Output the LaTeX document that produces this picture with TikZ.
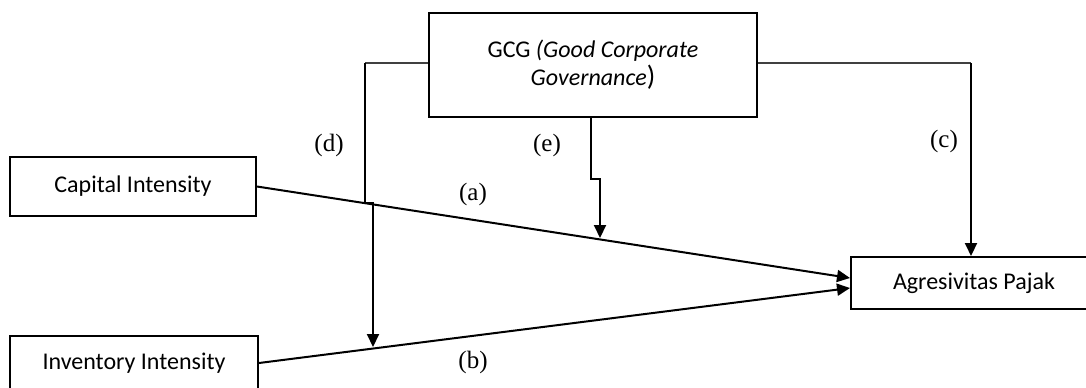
\documentclass[tikz,border=0pt]{standalone}
\usepackage{fontspec}
\setmainfont{Liberation Serif}
\newfontfamily\boxfont{Carlito}
\usetikzlibrary{arrows.meta}

\begin{document}
\begin{tikzpicture}[x=0.5pt,y=-0.5pt,
    varbox/.style={draw, line width=1pt, inner sep=0pt, font=\boxfont\fontsize{12}{14}\selectfont, align=center},
    path label/.style={font=\fontsize{12.5}{14}\selectfont},
    arrowline/.style={line width=1pt, -{Triangle[length=6.5pt,width=6pt]}},
    plainline/.style={line width=1pt},
    thinlink/.style={line width=0.6pt, black!75}]

% page size (the bottom and right boxes run off the page)
\useasboundingbox (0,0) rectangle (1086,387);

% Variables
\node[varbox, minimum width=123pt, minimum height=29.5pt] (capital) at (133,186.5) {Capital Intensity};
\node[varbox, minimum width=124pt, minimum height=27pt] (inventory) at (134,363) {Inventory Intensity};
\node[varbox, minimum width=123pt, minimum height=26pt] (agres) at (974,283) {Agresivitas Pajak};
\node[varbox, minimum width=164pt, minimum height=52pt] (gcg) at (593,65)
    {GCG \textit{(Good Corporate}\\\textit{Governance}{\fontsize{14}{14}\selectfont)}};

% Direct effects (a) and (b)
\draw[arrowline] (capital.east) -- ([yshift=2.5pt]agres.west);
\draw[arrowline] (inventory.east) -- ([yshift=-2.5pt]agres.west);

% Bend points of the moderating lines
\coordinate (dtop) at (365,63);
\coordinate (dknee) at (365,203);
\coordinate (dturn) at (373,203);
\coordinate (dfoot) at (373,347);
\coordinate (eknee) at (591,179);
\coordinate (eturn) at (600,179);
\coordinate (efoot) at (600,238);
\coordinate (ctop) at (971,63);

% (d) GCG on the inventory path
\draw[thinlink] (gcg.west |- dtop) -- (dtop);
\draw[arrowline] (dtop) -- (dknee) -- (dturn) -- (dfoot);

% (e) GCG on the capital path
\draw[arrowline] (gcg.south -| eknee) -- (eknee) -- (eturn) -- (efoot);

% (c) GCG straight to tax aggressiveness
\draw[thinlink] (gcg.east |- ctop) -- (ctop);
\draw[arrowline] (ctop) -- (ctop |- agres.north);

% Path labels
\node[path label] (la) at (473,194) {(a)};
\node[path label] (lb) at (473,362) {(b)};
\node[path label] (lc) at (944,141) {(c)};
\node[path label] (ld) at (329,145) {(d)};
\node[path label] (le) at (547,145) {(e)};

\end{tikzpicture}
\end{document}
